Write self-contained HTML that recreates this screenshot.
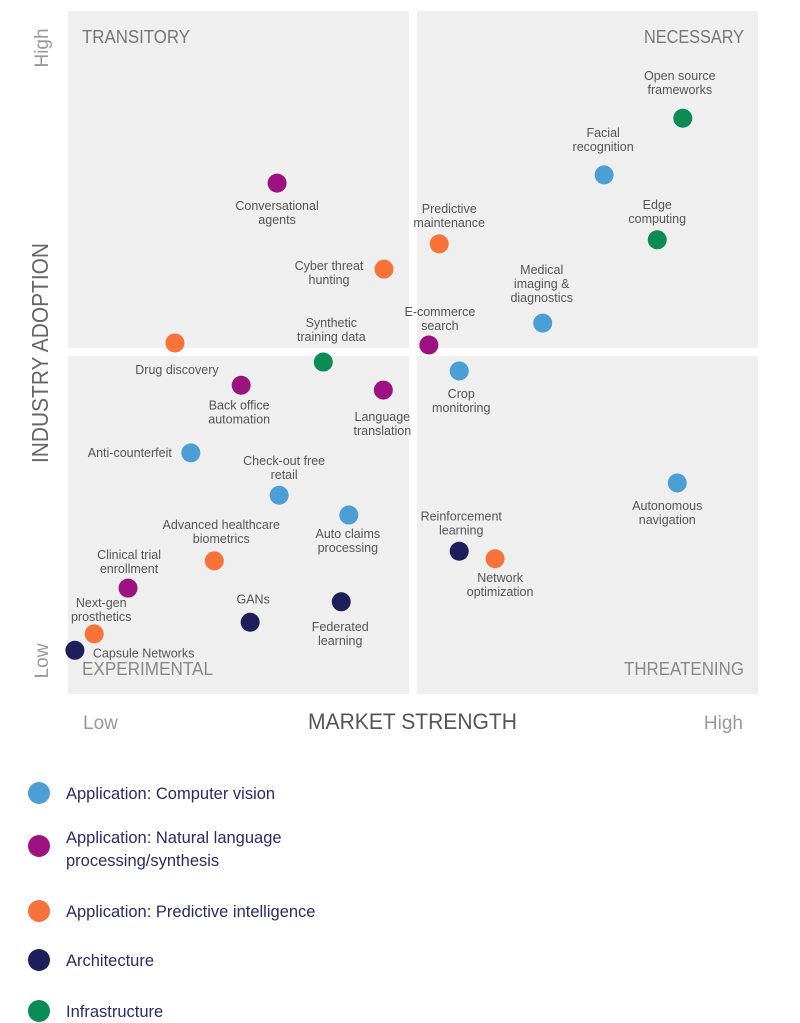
<!DOCTYPE html>
<html><head><meta charset="utf-8"><style>
body{margin:0;background:#fff;}
svg{display:block;font-family:"Liberation Sans",sans-serif;}
</style></head><body>
<svg width="800" height="1023" viewBox="0 0 800 1023" id="chart">
<rect x="68" y="11" width="341" height="337" fill="#efefef"/>
<rect x="417" y="11" width="341" height="337" fill="#efefef"/>
<rect x="68" y="356" width="341" height="338" fill="#efefef"/>
<rect x="417" y="356" width="341" height="338" fill="#efefef"/>
<text x="82" y="43" font-size="18" fill="#777" textLength="108" lengthAdjust="spacingAndGlyphs">TRANSITORY</text>
<text x="644" y="43" font-size="18" fill="#777" textLength="100" lengthAdjust="spacingAndGlyphs">NECESSARY</text>
<text x="82" y="675" font-size="18" fill="#888" textLength="131" lengthAdjust="spacingAndGlyphs">EXPERIMENTAL</text>
<text x="624" y="675" font-size="18" fill="#888" textLength="120" lengthAdjust="spacingAndGlyphs">THREATENING</text>
<text transform="translate(48,48) rotate(-90)" font-size="19" fill="#999" text-anchor="middle">High</text>
<text transform="translate(48,661) rotate(-90)" font-size="19" fill="#999" text-anchor="middle">Low</text>
<text transform="translate(48,463) rotate(-90)" font-size="23" fill="#666" textLength="220" lengthAdjust="spacingAndGlyphs">INDUSTRY ADOPTION</text>
<text x="83" y="729" font-size="19" fill="#999">Low</text>
<text x="743" y="729" font-size="19" fill="#999" text-anchor="end">High</text>
<text x="308" y="729" font-size="22" fill="#555" textLength="209" lengthAdjust="spacingAndGlyphs">MARKET STRENGTH</text>
<g id="points"></g>
<g id="legend"></g>
</svg>
<script>
const names=["Open source|frameworks","Facial|recognition","Edge|computing","Conversational|agents","Predictive|maintenance","Cyber threat|hunting","Medical|imaging &|diagnostics","E-commerce|search","Drug discovery","Synthetic|training data","Crop|monitoring","Back office|automation","Language|translation","Anti-counterfeit","Autonomous|navigation","Check-out free|retail","Auto claims|processing","Reinforcement|learning","Network|optimization","Advanced healthcare|biometrics","Clinical trial|enrollment","Federated|learning","GANs","Next-gen|prosthetics","Capsule Networks"];
const xValues=[89.1,77.7,85.4,30.3,53.8,45.8,68.8,52.3,15.5,37.0,56.7,25.1,45.7,17.8,88.3,30.6,40.7,56.7,61.9,21.2,8.7,39.6,26.4,3.8,1.0];
const yValues=[84.3,76.0,66.5,74.8,65.9,62.2,54.3,51.1,51.4,48.6,47.3,45.2,44.5,35.3,30.9,29.1,26.2,20.9,19.8,19.5,15.5,13.5,10.5,8.8,6.4];
const groups=[4,0,4,1,2,2,0,1,2,4,0,1,1,0,0,0,0,3,2,2,1,3,3,2,3];
const legendLabels=["Application: Computer vision","Application: Natural language|processing/synthesis","Application: Predictive intelligence","Architecture","Infrastructure"];
const colors=["#4b9fd5","#9c1281","#f7733a","#1e1e5a","#0c8c55"];
const labelDx=[-3,-1,0,0,10,-55,-1,11,2,8,2,-2,-1,-61,-10,5,-1,2,5,7,1,-1,3,7,18];
const labelDy=[-38,-38,-31,27,-31,1,-49,-29,31,-35,27,24,31,4,27,-30,23,-31,23,-32,-29,29,-19,-27,7];
const NS="http://www.w3.org/2000/svg";
const xs=v=>68+v*6.9, ys=v=>694-v*6.83;
const pg=document.getElementById('points');
names.forEach((n,i)=>{
  const cx=xs(xValues[i]), cy=ys(yValues[i]);
  const c=document.createElementNS(NS,'circle');
  c.setAttribute('cx',cx);c.setAttribute('cy',cy);c.setAttribute('r',9.5);c.setAttribute('fill',colors[groups[i]]);
  
  
  pg.appendChild(c);
  const t=document.createElementNS(NS,'text');
  const anchor=i===24?'start':'middle';
  t.setAttribute('text-anchor',anchor);t.setAttribute('font-size','12.5');t.setAttribute('fill','#555');
  
  
  n.split('|').forEach((line,k)=>{
    const s=document.createElementNS(NS,'tspan');
    s.setAttribute('x',cx+labelDx[i]);s.setAttribute('y',cy+labelDy[i]+k*14);s.textContent=line;t.appendChild(s);
  });
  pg.appendChild(t);
});
const lg=document.getElementById('legend');
const ly=[793,846,911,960,1011];
legendLabels.forEach((n,i)=>{
  const c=document.createElementNS(NS,'circle');
  c.setAttribute('cx',39);c.setAttribute('cy',ly[i]);c.setAttribute('r',11);c.setAttribute('fill',colors[i]);
  
  
  lg.appendChild(c);
  const t=document.createElementNS(NS,'text');
  t.setAttribute('font-size','16.5');t.setAttribute('fill','#2b2b66');
  
  
  const lines=n.split('|');
  lines.forEach((line,k)=>{
    const s=document.createElementNS(NS,'tspan');
    s.setAttribute('x',66);s.setAttribute('y',ly[i]+6-(lines.length>1?9:0)+k*23);s.textContent=line;t.appendChild(s);
  });
  lg.appendChild(t);
});
</script>
</body></html>
